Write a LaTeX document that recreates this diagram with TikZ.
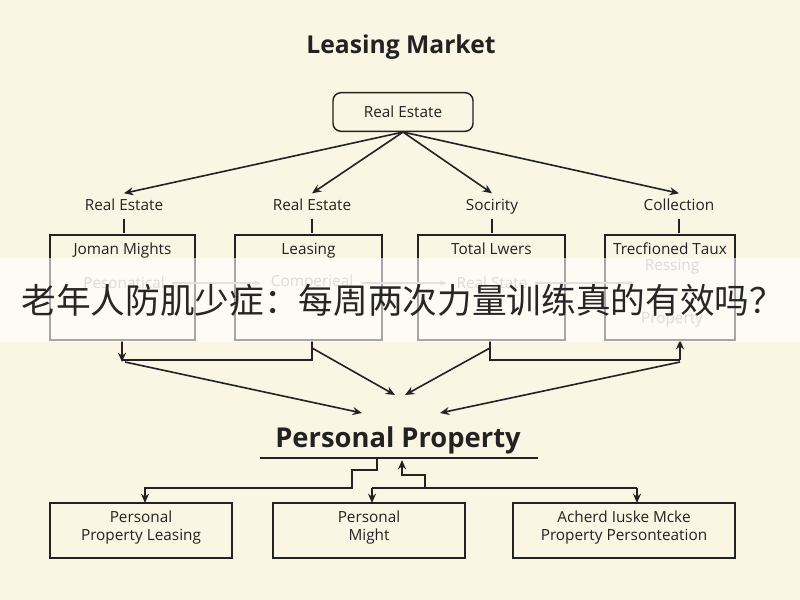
\documentclass[tikz,border=0pt]{standalone}
\usepackage{fontspec}
\setmainfont{Open Sans}
\newfontfamily\cjk{Noto Sans CJK SC}
\usetikzlibrary{arrows.meta}
\definecolor{bg}{HTML}{FBF5E4}
\definecolor{ink}{HTML}{222222}
\begin{document}
\begin{tikzpicture}[x=0.75pt,y=-0.75pt,
  box/.style={draw=ink,line width=1.1pt,minimum height=0pt,inner sep=0pt},
  lbl/.style={font=\fontsize{11.5}{13.5}\selectfont,text=ink},
  ln/.style={draw=ink,line width=1.2pt},
  arr/.style={ln,-{Stealth[length=7pt,width=6pt]}},
  faint/.style={font=\fontsize{11.5}{13}\selectfont,text=gray!70}]
\fill[bg] (0,0) rectangle (800,600);
\useasboundingbox (0,0) rectangle (800,600);
\node[font=\bfseries\fontsize{18.5}{22}\selectfont,text=ink] (title) at (401,47) {Leasing Market};
\node[box,rounded corners=6pt,minimum width=105pt,minimum height=29pt,lbl] (re) at (403,112) {Real Estate};
\foreach \n/\x/\t in {l1/124/Real Estate,l2/312/Real Estate,l3/492/Socirity,l4/679/Collection}
  \node[lbl,text height=9pt,text depth=3pt] (\n) at (\x,206) {\t};
\foreach \n in {l1,l2,l3,l4} \draw[arr] (re.south) -- (\n.north);
\foreach \n/\a/\b/\t in {b1/50/195/Joman Mights,b2/235/382/Leasing,b3/418/565/Total Lwers,b4/605/735/Trecfioned Tаux}{
  \coordinate (\n tl) at (\a,235); \coordinate (\n br) at (\b,340);
  \draw[ln,line width=1.1pt] (\n tl) rectangle (\n br);
  \node[lbl,text height=9pt,text depth=3pt] (\n h) at ({(\a+\b)/2},250) {\t};}
\foreach \n/\b in {l1/b1h,l2/b2h,l3/b3h,l4/b4h}
  \draw[ln] (\n.south) -- ++(0,14);
\node[faint] (f1) at (124,283) {Pesonatical};
\node[faint] (f2) at (312,283) {Comperieal};
\node[faint] (f3) at (492,283) {Real State};
\node[faint] (f4) at (672,267) {Ressing};
\node[faint] (f5) at (672,320) {Property};
\foreach \a/\b in {f1/f2,f2/f3,f3/f4}
  \draw[gray!60,line width=1pt,-{Stealth[length=5pt]}] ([xshift=2pt]\a.east|-f1) -- ([xshift=-4pt]\b.west|-f1);
\coordinate (c1) at (122,340); \coordinate (c2) at (312,340);
\coordinate (c3) at (490,340); \coordinate (c4) at (680,340);
\draw[ln] (c2) -- (312,360) -- (122,360);
\draw[arr] (c1) -- (122,362);
\draw[ln] (c3) -- (490,360) -- (680,360);
\draw[arr] (680,360) -- (c4);
\node[font=\bfseries\fontsize{20.5}{24}\selectfont,text=ink] (pp) at (398,440) {Personal Property};
\draw[arr] (125,362) -- (362,413);
\draw[arr] (312,348) -- (395,395);
\draw[arr] (490,348) -- (405,395);
\draw[arr] (680,362) -- (440,413);
\draw[ln] (260,458) -- (538,458);
\foreach \n/\a/\b/\t/\u in {d1/50/232/Personal/Property Leasing,d2/273/465/Personal/Might,d3/513/735/Acherd Iuske Mcke/Property Personteation}{
  \draw[ln,line width=1.1pt] (\a,503) rectangle (\b,558);
  \node[lbl,align=center] (\n) at ({(\a+\b)/2},528) {\t\\\u};}
\draw[arr] (377,458) -- (377,470) -- (352,470) -- (352,488) -- (145,488) -- (145,503);
\draw[arr] (425,488) -- (425,475) -- (402,475) -- (402,460);
\draw[ln] (372,488) -- (637,488);
\draw[arr] (372,488) -- (372,503);
\draw[arr] (637,488) -- (637,503);
\fill[white,opacity=0.6] (0,258) rectangle (800,342);
\node[font=\cjk\fontsize{26}{30}\selectfont,text=black!85] (ban) at (403,300) {老年人防肌少症：每周两次力量训练真的有效吗？};
\end{tikzpicture}
\end{document}
